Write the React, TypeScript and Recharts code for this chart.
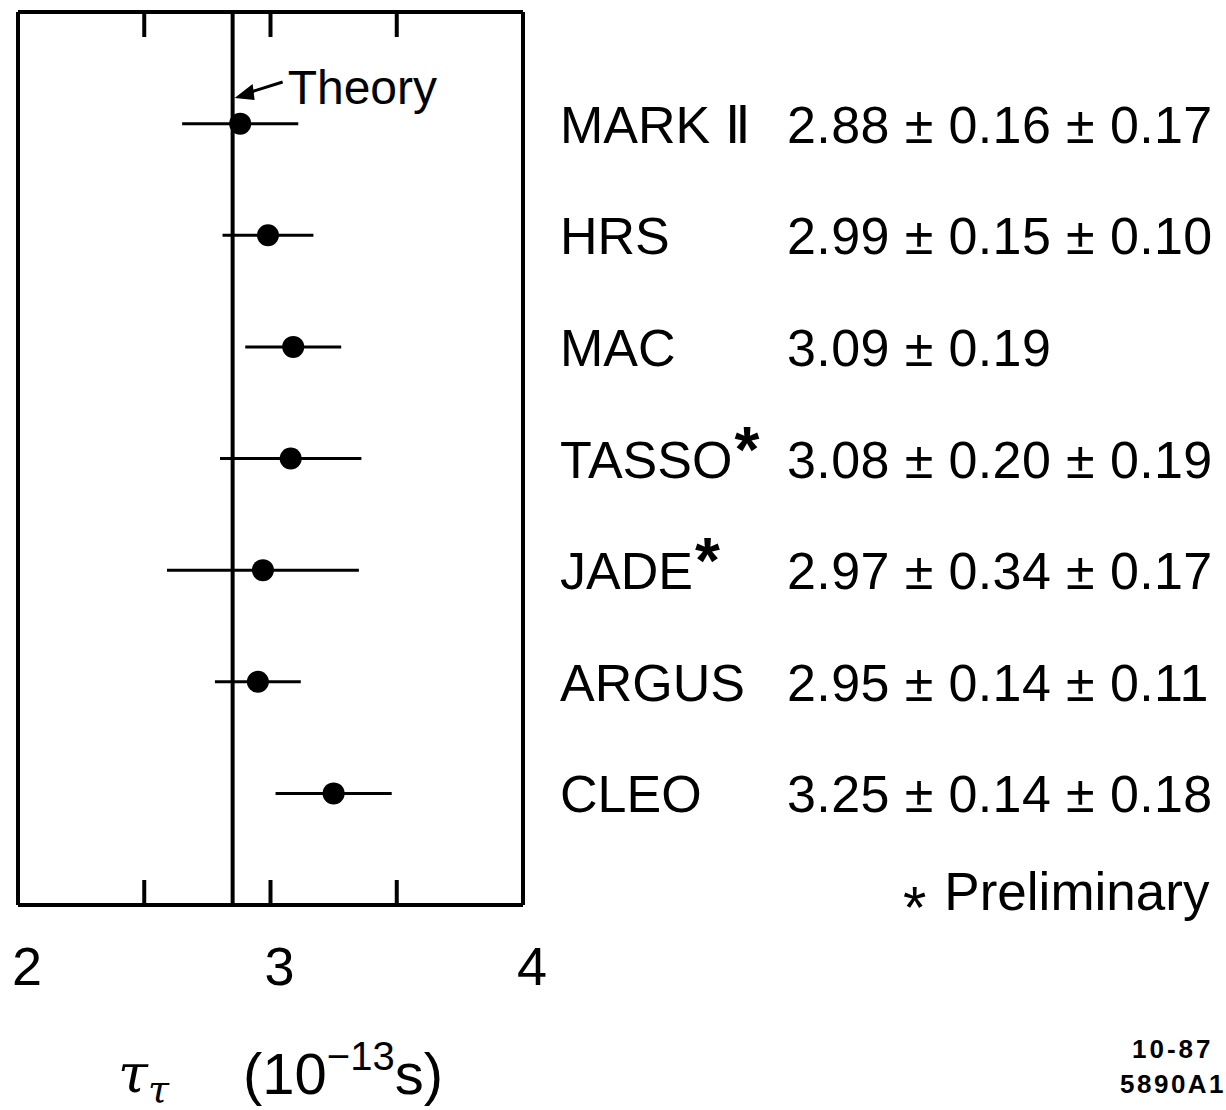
import { ScatterChart, Scatter, XAxis, YAxis, ErrorBar, ReferenceLine } from 'recharts';

const experiments = ['MARK Ⅱ', 'HRS', 'MAC', 'TASSO', 'JADE', 'ARGUS', 'CLEO'];
const preliminary = [false, false, false, true, true, false, false];
const lifetimes = [2.88, 2.99, 3.09, 3.08, 2.97, 2.95, 3.25];
const resultText = [
  '2.88 ± 0.16 ± 0.17',
  '2.99 ± 0.15 ± 0.10',
  '3.09 ± 0.19',
  '3.08 ± 0.20 ± 0.19',
  '2.97 ± 0.34 ± 0.17',
  '2.95 ± 0.14 ± 0.11',
  '3.25 ± 0.14 ± 0.18',
];
// half widths of the drawn error bars (stat and syst combined)
const errors = [0.23, 0.18, 0.19, 0.28, 0.38, 0.17, 0.23];
const rows = [1, 2, 3, 4, 5, 6, 7];
const xTicks = [2, 2.5, 3, 3.5, 4];
const theory = 2.85;

const FONT = '"Liberation Sans", Arial, sans-serif';

const points = rows.map((r, i) => ({ x: lifetimes[i], y: r, err: errors[i] }));

const Dot = ({ cx, cy }: any) => <circle cx={cx} cy={cy} r={11} fill="#000" />;
const NoDot = () => <g />;

const BottomTick = ({ x, y, payload }: any) => {
  if (!Number.isInteger(payload.value)) return <g />;
  return (
    <text x={x + 9} y={y} dy={80} textAnchor="middle" fontSize={54} fontFamily={FONT} fill="#000">
      {payload.value}
    </text>
  );
};

const RowTick = ({ y, payload }: any) => {
  const i = payload.value - 1;
  if (i < 0 || i >= experiments.length) return <g />;
  return (
    <g fontFamily={FONT} fill="#000" fontSize={52}>
      <text x={560} y={y} dy={19}>
        {experiments[i]}
        {preliminary[i] && <tspan dx={2} dy={-6} fontSize={64} fontWeight="bold">*</tspan>}
      </text>
      <text x={787} y={y} dy={19} letterSpacing={0.4}>{resultText[i]}</text>
    </g>
  );
};

const TheoryLabel = ({ viewBox }: any) => {
  const { x, y } = viewBox;
  return (
    <g>
      <line x1={x + 50} y1={y + 70} x2={x + 12} y2={y + 82} stroke="#000" strokeWidth={3} />
      <polygon points={`${x + 2},${y + 86} ${x + 20},${y + 72} ${x + 22},${y + 88}`} fill="#000" />
      <text x={x + 55} y={y + 92} fontSize={48} fontFamily={FONT} fill="#000">Theory</text>
    </g>
  );
};

export default function App() {
  return (
    <div style={{ position: 'absolute', left: 0, top: 0, width: 1226, height: 1110, background: '#fff' }}>
      <ScatterChart width={1226} height={1110} margin={{ top: 0, right: 0, bottom: 0, left: 0 }}>
        <XAxis
          type="number"
          dataKey="x"
          domain={[2, 4]}
          ticks={xTicks}
          height={205}
          stroke="#000"
          strokeWidth={4}
          tickSize={-25}
          tickMargin={25}
          tick={<BottomTick />}
        />
        <XAxis
          xAxisId="top"
          orientation="top"
          type="number"
          dataKey="x"
          domain={[2, 4]}
          ticks={xTicks}
          height={12}
          stroke="#000"
          strokeWidth={4}
          tickSize={-25}
          tickFormatter={() => ''}
        />
        <YAxis
          type="number"
          dataKey="y"
          domain={[0, 8]}
          reversed
          width={18}
          stroke="#000"
          strokeWidth={4}
          tick={false}
          tickLine={false}
        />
        <YAxis
          yAxisId="right"
          orientation="right"
          type="number"
          dataKey="y"
          domain={[0, 8]}
          reversed
          ticks={rows}
          width={703}
          stroke="#000"
          strokeWidth={4}
          tickLine={false}
          tick={<RowTick />}
        />
        <ReferenceLine x={theory} stroke="#000" strokeWidth={4} label={<TheoryLabel />} />
        <Scatter data={points} shape={<Dot />} isAnimationActive={false}>
          <ErrorBar dataKey="err" direction="x" width={0} stroke="#000" strokeWidth={3} />
        </Scatter>
        <Scatter data={points} xAxisId="top" yAxisId="right" shape={<NoDot />} isAnimationActive={false} />
      </ScatterChart>
      <svg width={1226} height={1110} style={{ position: 'absolute', left: 0, top: 0, pointerEvents: 'none' }}>
        <g fontFamily={FONT} fill="#000">
          <text x={903} y={910} fontSize={53}>
            <tspan fontSize={60} dy={18}>*</tspan>
            <tspan dx={18} dy={-18}>Preliminary</tspan>
          </text>
          <text x={118} y={1092} fontSize={54} fontStyle="italic" fontFamily="'DejaVu Serif', serif">
            τ<tspan fontSize={38} dy={10}>τ</tspan>
          </text>
          <text x={243} y={1094} fontSize={58}>
            (10<tspan dy={-24} fontSize={40}>−13</tspan>
            <tspan dy={24}>s)</tspan>
          </text>
          <text x={1132} y={1058} fontSize={26} fontWeight="bold" letterSpacing={3}>10-87</text>
          <text x={1120} y={1093} fontSize={26} fontWeight="bold" letterSpacing={2.5}>5890A1</text>
        </g>
      </svg>
    </div>
  );
}
